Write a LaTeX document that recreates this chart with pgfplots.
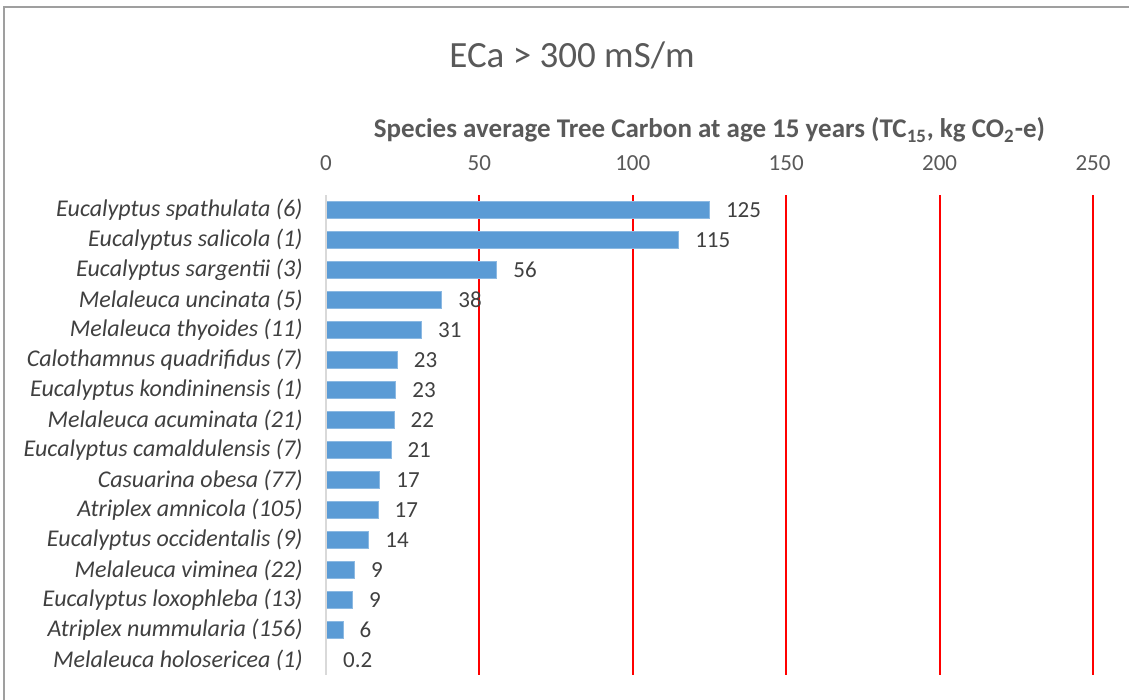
\documentclass[border=0pt]{standalone}
\usepackage{pgfplots}
\pgfplotsset{compat=1.18}
\usepackage{fontspec}
\setmainfont{Carlito}
\definecolor{barblue}{HTML}{5B9BD5}
\definecolor{txt}{HTML}{595959}
\definecolor{lbl}{HTML}{404040}
\definecolor{gridred}{HTML}{FF0000}
\begin{document}
\begin{tikzpicture}
\path[use as bounding box] (0,-350pt) rectangle (564.5pt,0);
\draw[gray!75, line width=0.8pt] (2pt,-350pt) -- (2pt,-3.5pt) -- (564.5pt,-3.5pt);
\node[text=txt, font=\fontsize{18.5}{21}\selectfont] at (286pt,-27.5pt) {ECa > 300 mS/m};
\begin{axis}[
  at={(163pt,-337.5pt)}, anchor=south west,
  scale only axis, width=383.5pt, height=240pt,
  xmin=0, xmax=250, ymin=-0.5, ymax=15.5, y dir=reverse,
  xbar, bar width=8.5pt, bar shift=0pt,
  axis line style={draw=none}, major tick length=0pt,
  xtick={50,100,...,250}, extra x ticks={0}, extra x tick style={grid=none},
  xticklabel pos=upper,
  xmajorgrids, grid style={draw=gridred, line width=1pt},
  /pgf/number format/assume math mode=true,
  x tick label style={font=\fontsize{11.5}{13}\selectfont, text=txt, anchor=center, inner sep=0pt, yshift=16pt},
  xlabel={\textbf{Species average Tree Carbon at age 15 years (TC\textsubscript{15}, kg CO\textsubscript{2}-e)}},
  xlabel style={at={(axis description cs:0.5,1)}, anchor=center, yshift=32.5pt, font=\fontsize{13.5}{15}\selectfont, text=txt, inner sep=0pt},
  ytick={0,...,15},
  yticklabels={Eucalyptus spathulata (6), Eucalyptus salicola (1), Eucalyptus sargentii (3), Melaleuca uncinata (5), Melaleuca thyoides (11), Calothamnus quadrifidus (7), Eucalyptus kondininensis (1), Melaleuca acuminata (21), Eucalyptus camaldulensis (7), Casuarina obesa (77), Atriplex amnicola (105), Eucalyptus occidentalis (9), Melaleuca viminea (22), Eucalyptus loxophleba (13), Atriplex nummularia (156), Melaleuca holosericea (1)},
  y tick label style={font=\itshape\fontsize{12}{14}\selectfont, text=lbl, anchor=east, inner sep=0pt, xshift=-11.5pt},
  point meta=explicit symbolic,
  nodes near coords,
  nodes near coords style={font=\fontsize{11.5}{13}\selectfont, text=lbl, anchor=west, inner sep=0pt, xshift=8pt},
  clip=false,
]
\addplot[fill=barblue, draw=barblue!70!white, line width=0.5pt] table[x=v, y=i, meta=l] {
i v l
0 125 125
1 115 115
2 55.7 56
3 37.8 38
4 31.2 31
5 23.3 23
6 22.8 23
7 22.2 22
8 21.2 21
9 17.6 17
10 17.0 17
11 14.0 14
12 9.3 9
13 8.7 9
14 5.6 6
15 0.2 0.2
};
\draw[black!15, line width=1pt] (axis cs:0,-0.5) -- (axis cs:0,15.5);
\end{axis}
\end{tikzpicture}
\end{document}
